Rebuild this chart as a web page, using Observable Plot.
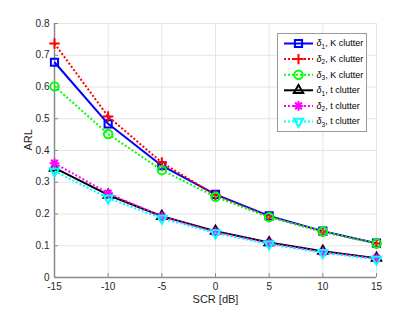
<!DOCTYPE html>
<html><head><meta charset="utf-8">
<script src="https://cdn.jsdelivr.net/npm/d3@7"></script>
<script src="https://cdn.jsdelivr.net/npm/@observablehq/plot@0.6"></script>
<style>
body{margin:0;background:#fff;}
#wrap{position:relative;width:415px;height:312px;font-family:"Liberation Sans",Arial,sans-serif;}
#legend{position:absolute;left:277px;top:33px;}
</style></head><body><div id="wrap"></div>
<script>
const scr = [-15, -10, -5, 0, 5, 10, 15];
const d1K = [0.678, 0.484, 0.352, 0.262, 0.194, 0.146, 0.108];
const d2K = [0.737, 0.507, 0.362, 0.259, 0.191, 0.144, 0.107];
const d3K = [0.602, 0.452, 0.338, 0.254, 0.190, 0.145, 0.107];
const d1t = [0.345, 0.260, 0.193, 0.146, 0.110, 0.083, 0.061];
const d2t = [0.360, 0.265, 0.192, 0.143, 0.108, 0.080, 0.060];
const d3t = [0.335, 0.250, 0.186, 0.140, 0.105, 0.078, 0.057];
const xTicks = [-15, -10, -5, 0, 5, 10, 15];
const yTicks = [0, 0.1, 0.2, 0.3, 0.4, 0.5, 0.6, 0.7, 0.8];
const xLabel = "SCR [dB]";
const yLabel = "ARL";

const rad = s => Math.sqrt(s / Math.PI);
const symSquare = {draw(c, s) { const r = rad(s); c.rect(-r, -r, 2 * r, 2 * r); }};
const symPlus = {draw(c, s) { const r = rad(s) * 1.3; c.moveTo(-r, 0); c.lineTo(r, 0); c.moveTo(0, -r); c.lineTo(0, r); }};
const symCircle = {draw(c, s) { const r = rad(s); c.moveTo(r, 0); c.arc(0, 0, r, 0, 2 * Math.PI); }};
const symTriUp = {draw(c, s) { const R = rad(s) * 1.35; c.moveTo(0, -R); c.lineTo(R * 0.866, R / 2); c.lineTo(-R * 0.866, R / 2); c.closePath(); }};
const symTriDown = {draw(c, s) { const R = rad(s) * 1.35; c.moveTo(0, R); c.lineTo(R * 0.866, -R / 2); c.lineTo(-R * 0.866, -R / 2); c.closePath(); }};
const symAst = {draw(c, s) { const r = rad(s) * 1.2, q = r * 0.7071;
  c.moveTo(-r, 0); c.lineTo(r, 0); c.moveTo(0, -r); c.lineTo(0, r);
  c.moveTo(-q, -q); c.lineTo(q, q); c.moveTo(-q, q); c.lineTo(q, -q); }};

const series = [
  {sub: "1", clutter: "K clutter", values: d1K, color: "#0000ff", dash: null, symbol: symSquare, r: 3.6},
  {sub: "2", clutter: "K clutter", values: d2K, color: "#ff0000", dash: "2,2", symbol: symPlus, r: 4},
  {sub: "3", clutter: "K clutter", values: d3K, color: "#00ff00", dash: "2,2", symbol: symCircle, r: 4.2},
  {sub: "1", clutter: "t clutter", values: d1t, color: "#000000", dash: null, symbol: symTriUp, r: 4},
  {sub: "2", clutter: "t clutter", values: d2t, color: "#ff00ff", dash: "2,2", symbol: symAst, r: 4},
  {sub: "3", clutter: "t clutter", values: d3t, color: "#00ffff", dash: "2,2", symbol: symTriDown, r: 4}
];

const seriesMarks = series.flatMap(s => {
  const data = scr.map((x, i) => ({x, y: s.values[i]}));
  return [
    Plot.line(data, {x: "x", y: "y", stroke: s.color, strokeWidth: 2, strokeDasharray: s.dash, strokeLinecap: "butt"}),
    Plot.dot(data, {x: "x", y: "y", stroke: s.color, strokeWidth: 2, fill: "none", symbol: s.symbol, r: s.r})
  ];
});

const chart = Plot.plot({
  width: 415, height: 312,
  marginLeft: 54, marginRight: 39, marginTop: 23, marginBottom: 35,
  style: {fontFamily: '"Liberation Sans", Arial, sans-serif', fontSize: "10px", color: "#262626", background: "white", overflow: "visible"},
  x: {domain: [-15, 15]},
  y: {domain: [0, 0.8]},
  marks: [
    Plot.gridX(xTicks, {stroke: "#e4e4e4", strokeOpacity: 1}),
    Plot.gridY(yTicks, {stroke: "#e4e4e4", strokeOpacity: 1}),
    Plot.ruleX([-15], {stroke: "#8a8a8a", strokeWidth: 1.5}),
    Plot.ruleY([0], {stroke: "#8a8a8a", strokeWidth: 1.5}),
    Plot.axisX(xTicks, {tickSize: -4, tickPadding: 9, tickFormat: d => String(d), label: null, stroke: "#8a8a8a", fill: "#262626", fontSize: 10}),
    Plot.axisY(yTicks, {tickSize: -4, tickPadding: 9, tickFormat: d => String(d), label: null, stroke: "#8a8a8a", fill: "#262626", fontSize: 10}),
    Plot.text([xLabel], {frameAnchor: "bottom", dy: 25, fontSize: 11, fill: "#262626"}),
    Plot.text([yLabel], {frameAnchor: "left", rotate: -90, dx: -26, fontSize: 11, fill: "#262626"}),
    ...seriesMarks
  ]
});
const wrap = document.getElementById("wrap");
wrap.appendChild(chart);

// legend
const lw = 89, lh = 98;
const leg = d3.select(wrap).append("svg").attr("id", "legend").attr("width", lw + 1).attr("height", lh + 1);
leg.append("rect").attr("x", 0.5).attr("y", 0.5).attr("width", lw).attr("height", lh)
  .attr("fill", "white").attr("stroke", "#9a9a9a").attr("stroke-width", 1);
series.forEach((s, i) => {
  const cy = 10.5 + i * 15.6;
  const g = leg.append("g").attr("transform", `translate(0,${cy})`);
  g.append("line").attr("x1", 7).attr("x2", 36).attr("y1", 0).attr("y2", 0)
    .attr("stroke", s.color).attr("stroke-width", 2).attr("stroke-dasharray", s.dash);
  const p = d3.path();
  s.symbol.draw(p, s.r * s.r * Math.PI);
  g.append("path").attr("d", p.toString()).attr("transform", "translate(21.5,0)")
    .attr("fill", "none").attr("stroke", s.color).attr("stroke-width", 2);
  const t = g.append("text").attr("x", 39.5).attr("y", 0).attr("dy", "0.32em")
    .attr("font-family", '"Liberation Sans", Arial, sans-serif').attr("font-size", 9).attr("fill", "#000");
  t.append("tspan").attr("font-style", "italic").text("δ");
  t.append("tspan").attr("font-size", 6.5).attr("dy", 2.5).text(s.sub);
  t.append("tspan").attr("dy", -2.5).text(", " + s.clutter);
});
</script></body></html>
